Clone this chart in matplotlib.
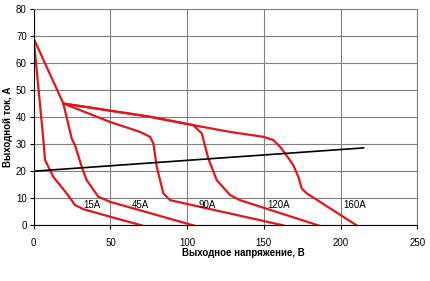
import matplotlib
matplotlib.use("Agg")
import matplotlib.pyplot as plt

plt.rcParams['font.family'] = ['Liberation Sans', 'DejaVu Sans']

# output voltage (V) / output current (A) for each setting
v15 = [0, 6.3, 7.4, 10.6, 12.8, 21.5, 26.9, 32.3, 49.7, 70.4]
i15 = [69, 31.5, 24.1, 20.4, 17.9, 11.8, 7.5, 6.0, 3.2, 0]

v45 = [0, 19.3, 24.8, 26.9, 31.3, 34.5, 42.1, 49.7, 104]
i45 = [69, 45, 32, 29.6, 21.6, 16.7, 10.6, 8.7, 0]

v90 = [19.3, 49.7, 69.3, 75.8, 78, 80.2, 84.5, 88.9, 162.7]
i90 = [45, 38.2, 34.5, 32.7, 30.3, 21.6, 11.8, 9.3, 0]

v120 = [19.3, 75.8, 104, 109.5, 113.8, 119.3, 128, 134.5, 185.5]
i120 = [45, 40.1, 37, 34, 24.7, 16.7, 11.2, 9.3, 0]

v160 = [19.3, 75.8, 104, 128, 149.7, 156.2, 160.6, 163.8, 169.2, 172.5, 174.7, 178, 210.5]
i160 = [45, 40.1, 37, 34.5, 32.7, 31.5, 29, 26.6, 22.2, 17.9, 13.6, 11.8, 0]

v_load = [0, 215]
i_load = [20, 28.6]

curve_names = ["15A", "45A", "90A", "120A", "160A"]
label_x = [37.8, 69.3, 112.8, 159.5, 209.5]
label_y = 7.5

fig = plt.figure(figsize=(4.3, 2.81), dpi=100)
ax = fig.add_axes([0.0784, 0.198, 0.892, 0.771])

red = '#e3141c'
for v, i in [(v15, i15), (v45, i45), (v90, i90), (v120, i120), (v160, i160)]:
    ax.plot(v, i, color=red, linewidth=1.6, solid_joinstyle='round')
ax.plot(v_load, i_load, color='black', linewidth=1.2)

for name, x in zip(curve_names, label_x):
    ax.text(x, label_y, name, fontsize=7, ha='center', va='center')

ax.set_xlim(0, 250)
ax.set_ylim(0, 80)
ax.set_xticks(range(0, 251, 50))
ax.set_yticks(range(0, 81, 10))
ax.grid(True, color='#808080', linewidth=0.8)
ax.set_axisbelow(True)
for s in ['top', 'right']:
    ax.spines[s].set_color('#808080')
    ax.spines[s].set_linewidth(0.8)
for s in ['left', 'bottom']:
    ax.spines[s].set_linewidth(0.8)
ax.tick_params(labelsize=7, length=3, width=0.8, pad=2)
ax.tick_params(axis='x', pad=6)

fig.text(0.565, 0.1, "Выходное напряжение, В", fontsize=7, fontweight='bold',
         ha='center', va='center')
fig.text(0.018, 0.55, "Выходной ток, А", fontsize=7, fontweight='bold',
         ha='center', va='center', rotation=90)

fig.savefig("out.png", dpi=100)
